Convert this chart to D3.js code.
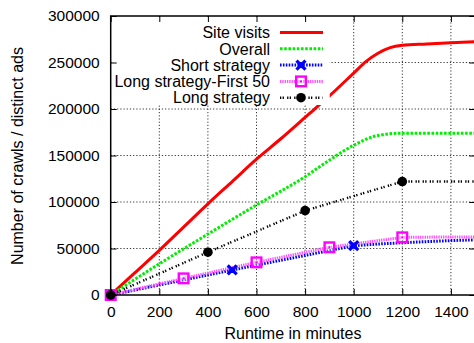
<!DOCTYPE html>
<html>
<head>
<meta charset="utf-8">
<script src="https://cdn.jsdelivr.net/npm/d3@7"></script>
<style>
  html, body { margin: 0; padding: 0; background: #fff; }
  svg { display: block; font-family: "Liberation Sans", Arial, Helvetica, sans-serif; }
</style>
</head>
<body>
<svg id="chart" width="474" height="343"></svg>
<script>
// Runtime (minutes) against cumulative counts, one array per series
const siteVisitsMinutes = [0, 100, 200, 300, 400, 500, 600, 700, 800, 900, 1000, 1050, 1100, 1150, 1200, 1300, 1400, 1500];
const siteVisitsValues  = [0, 24000, 48000, 73000, 98000, 122000, 146000, 168000, 191000, 214000, 238600, 251000, 260000, 266000, 268500, 270000, 271300, 272300];

const overallMinutes = [0, 200, 400, 600, 800, 900, 1000, 1100, 1200, 1300, 1400, 1500];
const overallValues  = [0, 33500, 65500, 96800, 127200, 145000, 161000, 171500, 174000, 174000, 174000, 174000];

const shortMinutes = [0, 500, 1000, 1100, 1200, 1300, 1400, 1500];
const shortValues  = [0, 26900, 53000, 54800, 56200, 57400, 58500, 59300];
const shortMarkers = [0, 500, 1000];

const first50Minutes = [0, 300, 600, 900, 1200, 1300, 1400, 1500];
const first50Values  = [0, 17900, 35100, 51300, 62000, 62200, 62400, 62500];
const first50Markers = [0, 300, 600, 900, 1200];

const longMinutes = [0, 400, 800, 1200, 1300, 1400, 1500];
const longValues  = [0, 46000, 90700, 122000, 122000, 122000, 122000];
const longMarkers = [0, 400, 800, 1200];

const xTicks = [0, 200, 400, 600, 800, 1000, 1200, 1400];
const yTicks = [0, 50000, 100000, 150000, 200000, 250000, 300000];

const seriesNames = ["Site visits", "Overall", "Short strategy", "Long strategy-First 50", "Long strategy"];

const svg = d3.select("#chart");
const plotLeft = 110.7, plotRight = 475.2, plotTop = 16, plotBottom = 295;

const x = d3.scaleLinear().domain([0, 1500]).range([plotLeft, plotRight]);
const y = d3.scaleLinear().domain([0, 300000]).range([plotBottom, plotTop]);

const pairs = (xs, ys) => xs.map((m, i) => [m, ys[i]]);

// grid
const grid = svg.append("g");
grid.selectAll("line.gx").data(xTicks.filter(d => d > 0)).join("line")
  .attr("x1", d => x(d)).attr("x2", d => x(d)).attr("y1", plotTop).attr("y2", plotBottom)
  .attr("stroke", "#333").attr("stroke-width", 1).attr("stroke-dasharray", "1.2,2");
grid.selectAll("line.gy").data(yTicks.filter(d => d > 0 && d < 300000)).join("line")
  .attr("x1", plotLeft).attr("x2", plotRight).attr("y1", d => y(d)).attr("y2", d => y(d))
  .attr("stroke", "#333").attr("stroke-width", 1).attr("stroke-dasharray", "1.2,2");

const styles = [
  { color: "#ff0000", width: 3, dash: null },
  { color: "#00ee00", width: 3, dash: "2.6,1.6" },
  { color: "#0000ff", width: 3, dash: "1.6,1.3" },
  { color: "#ff55ff", width: 3, dash: "1.4,0.9" },
  { color: "#000000", width: 2.4, dash: "1.3,1.3,1.3,3.2" }
];

svg.append("clipPath").attr("id", "plotclip")
  .append("rect").attr("x", plotLeft).attr("y", plotTop)
  .attr("width", plotRight - plotLeft).attr("height", plotBottom - plotTop);

const plot = svg.append("g").attr("clip-path", "url(#plotclip)");
const points = svg.append("g");

function drawLine(data, st, curve) {
  const line = d3.line().x(d => x(d[0])).y(d => y(d[1])).curve(curve);
  plot.append("path").datum(data)
    .attr("d", line).attr("fill", "none")
    .attr("stroke", st.color).attr("stroke-width", st.width)
    .attr("stroke-dasharray", st.dash)
    .attr("stroke-linejoin", "round");
}

// marker drawers
function crossMarker(g, cx, cy) {
  const r = 4.5;
  g.append("path")
    .attr("d", `M${cx - r},${cy - r}L${cx + r},${cy + r}M${cx - r},${cy + r}L${cx + r},${cy - r}`)
    .attr("stroke", "#0000ff").attr("stroke-width", 3.2).attr("fill", "none");
  g.append("rect").attr("x", cx - 3).attr("y", cy - 3).attr("width", 6).attr("height", 6).attr("fill", "#0000ff");
}
function squareMarker(g, cx, cy) {
  const r = 4.8;
  g.append("rect").attr("x", cx - r).attr("y", cy - r).attr("width", 2 * r).attr("height", 2 * r)
    .attr("fill", "#fff").attr("fill-opacity", 0.35).attr("stroke", "#ff00ff").attr("stroke-width", 2.4);
  g.append("rect").attr("x", cx - 1).attr("y", cy - 1).attr("width", 2).attr("height", 2).attr("fill", "#ff00ff");
}
function circleMarker(g, cx, cy) {
  g.append("circle").attr("cx", cx).attr("cy", cy).attr("r", 4.8).attr("fill", "#000");
}

const lookup = (xs, ys, m) => ys[xs.indexOf(m)];

// series lines
drawLine(pairs(siteVisitsMinutes, siteVisitsValues), styles[0], d3.curveMonotoneX);
drawLine(pairs(overallMinutes, overallValues), styles[1], d3.curveMonotoneX);
drawLine(pairs(shortMinutes, shortValues), styles[2], d3.curveLinear);
drawLine(pairs(first50Minutes, first50Values), styles[3], d3.curveLinear);
drawLine(pairs(longMinutes, longValues), styles[4], d3.curveLinear);

// point markers (not clipped, so the ones at the origin stay whole)
shortMarkers.forEach(m => crossMarker(points, x(m), y(lookup(shortMinutes, shortValues, m))));
first50Markers.forEach(m => squareMarker(points, x(m), y(lookup(first50Minutes, first50Values, m))));
longMarkers.forEach(m => circleMarker(points, x(m), y(lookup(longMinutes, longValues, m))));

// key (opaque box)
const key = svg.append("g");
key.append("rect").attr("x", plotLeft + 1).attr("y", plotTop + 1).attr("width", 218).attr("height", 88).attr("fill", "#fff");
const rowY = d => 32.5 + d * 16.3;
const sx1 = 280, sx2 = 323, smid = 301;
seriesNames.forEach((name, i) => {
  key.append("text").attr("x", 270).attr("y", rowY(i)).attr("dy", "0.36em")
    .attr("text-anchor", "end").attr("font-size", 16).text(name);
  const st = styles[i];
  key.append("line").attr("x1", sx1).attr("x2", sx2).attr("y1", rowY(i)).attr("y2", rowY(i))
    .attr("stroke", st.color).attr("stroke-width", st.width).attr("stroke-dasharray", st.dash);
});
crossMarker(key, smid, rowY(2));
squareMarker(key, smid, rowY(3));
circleMarker(key, smid, rowY(4));

// frame, inward ticks and labels
const axes = svg.append("g");
axes.append("rect").attr("x", plotLeft).attr("y", plotTop)
  .attr("width", plotRight - plotLeft).attr("height", plotBottom - plotTop)
  .attr("fill", "none").attr("stroke", "#000").attr("stroke-width", 1.5);

const xAxisBottom = d3.axisBottom(x).tickValues(xTicks).tickSizeInner(-6).tickSizeOuter(0).tickPadding(11).tickFormat(d3.format("d"));
const gxb = axes.append("g").attr("transform", `translate(0,${plotBottom})`).call(xAxisBottom);
const xAxisTop = d3.axisTop(x).tickValues(xTicks).tickSizeInner(-6).tickSizeOuter(0).tickFormat("");
const gxt = axes.append("g").attr("transform", `translate(0,${plotTop})`).call(xAxisTop);
const yAxisLeft = d3.axisLeft(y).tickValues(yTicks).tickSizeInner(-6).tickSizeOuter(0).tickPadding(11).tickFormat(d3.format("d"));
const gyl = axes.append("g").attr("transform", `translate(${plotLeft},0)`).call(yAxisLeft);
const yAxisRight = d3.axisRight(y).tickValues(yTicks).tickSizeInner(-6).tickSizeOuter(0).tickFormat("");
const gyr = axes.append("g").attr("transform", `translate(${plotRight},0)`).call(yAxisRight);

[gxb, gxt, gyl, gyr].forEach(g => {
  g.select(".domain").remove();
  g.selectAll(".tick line").attr("stroke", "#000").attr("stroke-width", 1);
  g.selectAll("text").attr("font-size", 15.5).attr("fill", "#000")
    .attr("font-family", "'Liberation Sans', Arial, sans-serif");
});

svg.append("text").attr("x", (plotLeft + plotRight) / 2).attr("y", 339)
  .attr("text-anchor", "middle").attr("font-size", 16).text("Runtime in minutes");
svg.append("text").attr("transform", "translate(17,156) rotate(-90)").attr("dy", "0.36em")
  .attr("text-anchor", "middle").attr("font-size", 16).text("Number of crawls / distinct ads");
</script>
</body>
</html>
